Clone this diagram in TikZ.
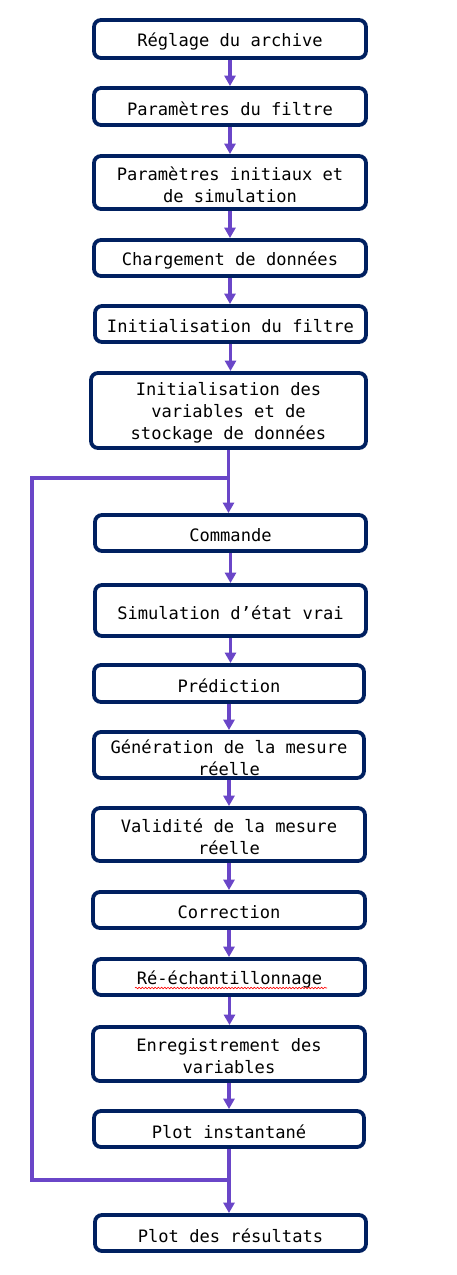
\documentclass[tikz,border=0pt]{standalone}
\usepackage{fontspec}
\newfontfamily\boxmono{DejaVu Sans Mono}
\usetikzlibrary{arrows.meta,decorations.pathmorphing}
\definecolor{navy}{HTML}{002060}
\definecolor{flowpurple}{HTML}{6A46C8}
\newcommand\dn[1]{\raisebox{-2.5pt}[\height][\depth]{#1}}
\tikzset{
  stepbox/.style={draw=navy, line width=3.8pt, rounded corners=7pt, fill=white,
    align=center, inner sep=0pt,
    font=\boxmono\fontsize{17.1}{21.8}\selectfont},
  flow/.style={draw=flowpurple, line width=3.4pt,
    -{Triangle[width=11pt,length=10.5pt]}},
  loopline/.style={draw=flowpurple, line width=3.4pt},
  squiggle/.style={draw=red, line width=0.6pt,
    decorate, decoration={snake, segment length=3.2pt, amplitude=0.8pt}}
}
\begin{document}
\begin{tikzpicture}[x=1pt,y=-1pt]
\useasboundingbox (0,0) rectangle (457,1275);
\fill[white] (0,0) rectangle (457,1275);

\node[stepbox, minimum width=272pt, minimum height=38pt] (p1) at (230,39) {\dn{Réglage du archive}};
\node[stepbox, minimum width=272pt, minimum height=37pt] (p2) at (230,106.5) {\dn{Paramètres du filtre}};
\node[stepbox, minimum width=272pt, minimum height=53pt] (p3) at (230,182.5) {\dn{Paramètres initiaux et}\\\dn{de simulation}};
\node[stepbox, minimum width=272pt, minimum height=36pt] (p4) at (230,258) {\dn{Chargement de données}};
\node[stepbox, minimum width=271pt, minimum height=36pt] (p5) at (230.5,324) {\dn{Initialisation du filtre}};
\node[stepbox, minimum width=275pt, minimum height=75pt] (p6) at (228.5,410.5) {\dn{Initialisation des}\\\dn{variables et de}\\\dn{stockage de données}};
\node[stepbox, minimum width=271pt, minimum height=36pt] (p7) at (230.5,533) {\dn{Commande}};
\node[stepbox, minimum width=271pt, minimum height=51pt] (p8) at (230.5,610.5) {\dn{Simulation d’état vrai}};
\node[stepbox, minimum width=270pt, minimum height=37pt] (p9) at (229,683.5) {\dn{Prédiction}};
\node[stepbox, minimum width=270pt, minimum height=46pt] (p10) at (229,755) {\dn{Génération de la mesure}\\\dn{réelle}};
\node[stepbox, minimum width=272pt, minimum height=53pt] (p11) at (229,834.5) {\dn{Validité de la mesure}\\\dn{réelle}};
\node[stepbox, minimum width=272pt, minimum height=36pt] (p12) at (229,910) {\dn{Correction}};
\node[stepbox, minimum width=271pt, minimum height=36pt] (p13) at (229.5,977) {\dn{Ré-échantillonnage}};
\node[stepbox, minimum width=272pt, minimum height=54pt] (p14) at (229,1054) {\dn{Enregistrement des}\\\dn{variables}};
\node[stepbox, minimum width=270pt, minimum height=36pt] (p15) at (229,1129) {\dn{Plot instantané}};
\node[stepbox, minimum width=271pt, minimum height=36pt] (p16) at (230.5,1233) {\dn{Plot des résultats}};

% spell-check underline
\coordinate (sqa) at (135,988);
\coordinate (sqb) at (327,988);
\draw[squiggle] (sqa) -- (sqb);

% main flow
\foreach \a/\b in {p1/p2,p2/p3,p3/p4,p4/p5,p5/p6,p6/p7,p7/p8,p8/p9,p9/p10,p10/p11,p11/p12,p12/p13,p13/p14,p14/p15,p15/p16}{
  \draw[flow] (\a.south) -- (\a.south |- \b.north);
}

% loop back
\coordinate (lt) at (32,478);
\coordinate (lb) at (32,1180);
\draw[loopline, line join=miter] (p15.south |- lb) -- (lb) -- (lt) -- (p6.south |- lt);
\end{tikzpicture}
\end{document}
